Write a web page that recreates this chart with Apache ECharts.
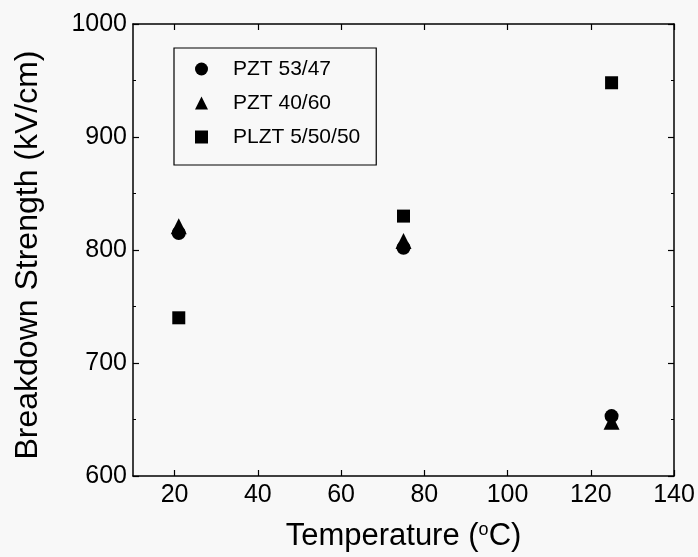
<!DOCTYPE html>
<html><head><meta charset="utf-8">
<script src="https://cdn.jsdelivr.net/npm/echarts@6/dist/echarts.min.js"></script>
<style>html,body{margin:0;padding:0;background:#f8f8f8}#c{width:698px;height:557px}</style>
</head><body><div id="c"></div>
<script>
const seriesNames = ['PZT 53/47', 'PZT 40/60', 'PLZT 5/50/50'];
const temps = [21, 75, 125];
const pzt5347 = [815, 802, 653];
const pzt4060 = [821, 808, 648];
const plzt = [740, 830, 948];
const xTicks = [20, 40, 60, 80, 100, 120, 140];
const yTicks = [600, 700, 800, 900, 1000];

const font = 'Liberation Sans, Arial, sans-serif';
const chart = echarts.init(document.getElementById('c'));
const axisCommon = {
  axisLine: {lineStyle: {color: '#000', width: 1.5}},
  axisTick: {inside: true, length: 6, lineStyle: {color: '#000', width: 1.2}},
  minorTick: {show: true, splitNumber: 2, length: 3, lineStyle: {color: '#000', width: 1}},
  splitLine: {show: false}
};
function mk(name, vals, symbol, size) {
  return {name: name, type: 'scatter', symbol: symbol, symbolSize: size,
    itemStyle: {color: '#000', opacity: 1}, emphasis: {disabled: true},
    data: temps.map((t, i) => [t, vals[i]]), xAxisIndex: 0, yAxisIndex: 0};
}
chart.setOption({
  backgroundColor: '#f8f8f8',
  animation: false,
  grid: {left: 133, right: 24, top: 24, bottom: 81},
  legend: {
    orient: 'vertical', left: 174, top: 48,
    data: seriesNames,
    borderColor: '#000', borderWidth: 1.2, padding: [9, 16, 16, 21],
    itemGap: 10, itemWidth: 13, itemHeight: 13,
    textStyle: {fontFamily: font, fontSize: 21, color: '#000', lineHeight: 24, padding: [0, 0, 0, 20]}
  },
  xAxis: [
    Object.assign({type: 'value', min: 10, max: 140, interval: 20, position: 'bottom',
      name: '{a|Temperature (}{s|o}{a|C)}', nameLocation: 'middle', nameGap: 45,
      nameTextStyle: {rich: {a: {fontFamily: font, fontSize: 31, color: '#000'}, s: {fontFamily: font, fontSize: 18, color: '#000', verticalAlign: 'top', padding: [0, 0, 12, 0]}}},
      axisLabel: {fontFamily: font, fontSize: 25, color: '#000', margin: 7,
        customValues: xTicks},
      axisTick: {inside: true, length: 6, customValues: xTicks, lineStyle: {color: '#000', width: 1.2}}
    }, {axisLine: axisCommon.axisLine, minorTick: {show: true, splitNumber: 2, length: 3, lineStyle: {color: '#000'}}, splitLine: {show: false}}),
    {type: 'value', min: 10, max: 140, interval: 20, position: 'top',
      axisLine: axisCommon.axisLine, axisLabel: {show: false},
      axisTick: {inside: true, length: 6, customValues: xTicks, lineStyle: {color: '#000', width: 1.2}},
      minorTick: {show: true, splitNumber: 2, length: 3, lineStyle: {color: '#000'}}, splitLine: {show: false}}
  ],
  yAxis: [
    Object.assign({type: 'value', min: 600, max: 1000, interval: 100, position: 'left',
      name: 'Breakdown Strength (kV/cm)', nameLocation: 'middle', nameGap: 89,
      nameTextStyle: {fontFamily: font, fontSize: 32, color: '#000', padding: [0, 10, 0, 0]},
      axisLabel: {fontFamily: font, fontSize: 25, color: '#000', margin: 6,
        formatter: v => String(v), customValues: yTicks}
    }, axisCommon),
    Object.assign({type: 'value', min: 600, max: 1000, interval: 100, position: 'right',
      axisLabel: {show: false}}, axisCommon)
  ],
  series: [
    mk(seriesNames[0], pzt5347, 'circle', 14),
    mk(seriesNames[1], pzt4060, 'triangle', 16),
    mk(seriesNames[2], plzt, 'rect', 13)
  ]
});
</script></body></html>
